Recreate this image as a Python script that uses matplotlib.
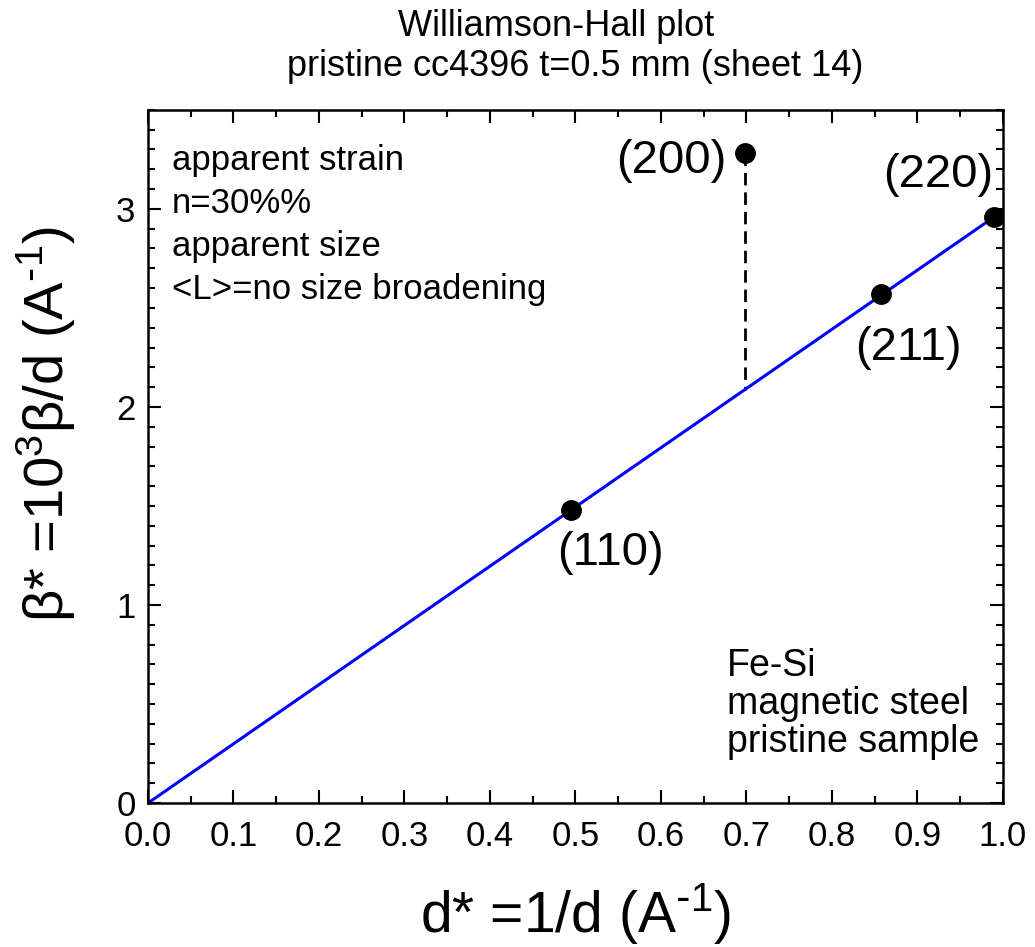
import numpy as np
import matplotlib.pyplot as plt
from matplotlib.ticker import MultipleLocator

plt.rcParams['font.family'] = ['Liberation Sans', 'DejaVu Sans']
plt.rcParams['mathtext.default'] = 'regular'

# measured peaks (d* in 1/A, beta* in 1e-3/A)
peaks = ["(110)", "(200)", "(211)", "(220)"]
d_star = [0.495, 0.698, 0.857, 0.990]
beta_star = [1.48, 3.28, 2.57, 2.96]

# linear fit through origin (without the (200) outlier)
slope = 2.99
fit_x = [0.0, 1.0]

fig = plt.figure(figsize=(10.35, 9.47), dpi=100)
ax = fig.add_axes([0.143, 0.152, 0.826, 0.732])

ax.plot(fit_x, [slope * v for v in fit_x], color='#0000ff', lw=2.2, zorder=2)
ax.plot([d_star[1], d_star[1]], [beta_star[1], slope * d_star[1]],
        color='black', lw=2.0, ls=(0, (4.5, 2.5)), zorder=1)
ax.plot(d_star, beta_star, 'o', color='black', ms=14, zorder=3)

# peak labels
offsets = [(0.046, -0.215, 'center', 'center'),
           (-0.022, -0.04, 'right', 'center'),
           (0.032, -0.27, 'center', 'center'),
           (-0.066, 0.21, 'center', 'center')]
for name, x, y, (dx, dy, ha, va) in zip(peaks, d_star, beta_star, offsets):
    ax.text(x + dx, y + dy, name, fontsize=34, ha=ha, va=va)

ax.text(0.028, 2.92, "apparent strain\nn=30%%\napparent size\n<L>=no size broadening",
        fontsize=25, ha='left', va='center', linespacing=1.38)
ax.text(0.677, 0.5, "Fe-Si\nmagnetic steel\npristine sample",
        fontsize=27, ha='left', va='center', linespacing=1.07)

ax.set_xlim(0, 1.0)
ax.set_ylim(0, 3.5)
ax.xaxis.set_major_locator(MultipleLocator(0.1))
ax.xaxis.set_minor_locator(MultipleLocator(0.05))
ax.yaxis.set_major_locator(MultipleLocator(1))
ax.yaxis.set_minor_locator(MultipleLocator(0.1))
ax.tick_params(which='both', direction='in', top=True, right=True, width=1.5,
               labelsize=25)
ax.tick_params(axis='x', pad=12)
ax.tick_params(axis='y', pad=9)
ax.tick_params(which='major', length=9.5)
ax.tick_params(which='minor', length=5)
ax.xaxis.set_major_formatter(plt.FuncFormatter(lambda v, p: f"{v:.1f}"))
for s in ax.spines.values():
    s.set_linewidth(1.8)

ax.set_xlabel("d* =1/d (A$^{\\text{-}1}$)", fontsize=41, labelpad=20)
ax.set_ylabel("β* =10$^{3}$β/d (A$^{\\text{-}1}$)", fontsize=40.5)
ax.yaxis.set_label_coords(-0.082, 0.547)

fig.text(0.537, 0.972, "Williamson-Hall plot", fontsize=26, ha='center', va='center')
fig.text(0.556, 0.93, "pristine cc4396 t=0.5 mm (sheet 14)", fontsize=26,
         ha='center', va='center')

fig.savefig("out.png", dpi=100)
